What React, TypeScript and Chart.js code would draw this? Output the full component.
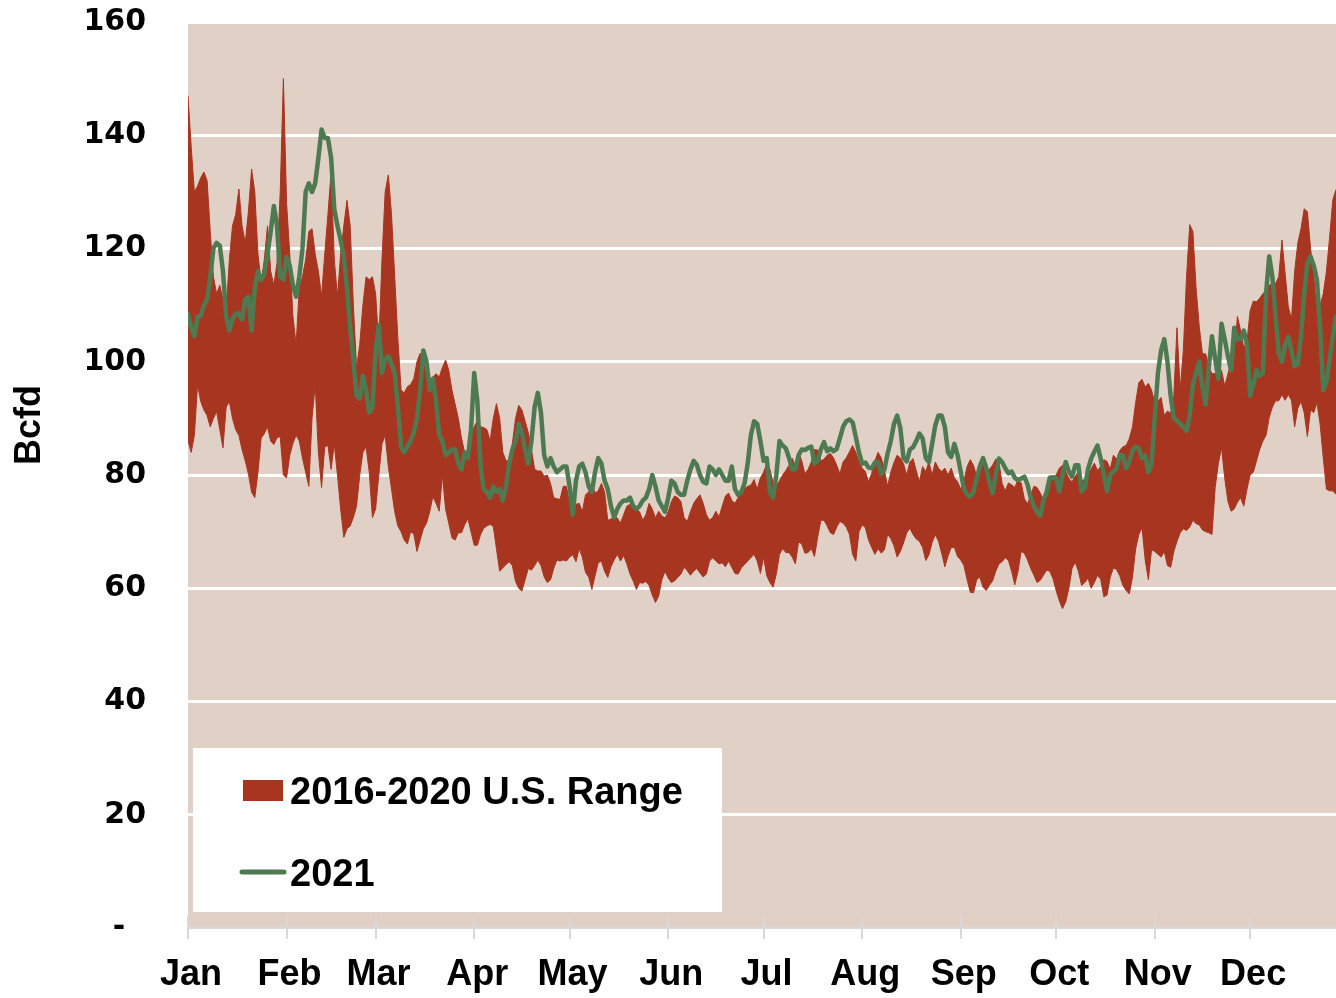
import React, { useEffect, useRef } from 'react';
import { Chart, registerables } from 'chart.js';

Chart.register(...registerables);

const monthNames = ['Jan', 'Feb', 'Mar', 'Apr', 'May', 'Jun', 'Jul', 'Aug', 'Sep', 'Oct', 'Nov', 'Dec'];
const monthStartDays = [0, 31, 59, 90, 120, 151, 181, 212, 243, 273, 304, 334];
const yTickValues = [0, 20, 40, 60, 80, 100, 120, 140, 160];
const yAxisTitle = 'Bcfd';
const rangeLabel = '2016-2020 U.S. Range';
const lineLabel = '2021';

// Daily maximum of the 2016-2020 range (Bcfd), day 0 = Jan 1
const rangeHigh = [
  147, 138, 130, 131, 132.5, 133.5, 132, 123, 115, 112,
  113.5, 111, 109, 118, 124, 126, 130.5, 124, 121, 126.5,
  134, 130, 119, 114, 118, 124, 116, 113.5, 117.5, 130,
  150, 128, 119, 108, 103, 113, 115, 118, 123, 123.5,
  119, 116, 111.5, 119, 126, 133.5, 118, 111.5, 119, 124,
  128.5, 124, 110, 99, 103, 110, 115, 114.5, 115, 112,
  103, 118, 130, 133, 126, 115, 104, 95, 94.5, 95.6,
  96, 97, 100, 101.5, 100, 97.5, 96.5, 97.3, 97.9, 97.3,
  99, 100.3, 98.5, 95, 92.5, 90, 86.5, 84, 82.5, 86,
  88.5, 89.6, 88.5, 88.4, 88, 86, 90, 92.6, 90, 84,
  82.5, 82.5, 85.5, 90, 92.3, 91.5, 89.5, 87.5, 84.5, 81,
  80.7, 80.7, 79.8, 80, 78.5, 76, 75.8, 75.7, 78, 78,
  75, 72.5, 74.8, 75, 73.5, 76.5, 77, 78.5, 76.8, 77.2,
  78.5, 77, 72, 72.2, 72.8, 72.4, 71.5, 73, 74.5, 74.8,
  74, 74, 73.5, 72, 73, 75, 74, 72.4, 73.6, 72.8,
  72.4, 73.5, 75.3, 76.3, 76, 75.3, 72.5, 71.8, 73.5, 75,
  75.8, 76.5, 75, 73, 72, 72.5, 73.6, 72.6, 74.5, 76.3,
  76.8, 75.5, 75, 76, 77, 77.6, 78, 78.2, 79.2, 77.5,
  79.5, 80.5, 82, 81, 78.5, 78, 79, 80, 80.8, 81.7,
  83, 81.5, 84, 82.5, 80.2, 81, 82.3, 84.5, 84.4, 82.5,
  82.8, 83.5, 83.8, 83, 81.7, 80.2, 82.3, 83, 84.1, 85.2,
  84, 82.3, 81.2, 80.6, 78.8, 80.3, 82.5, 84, 83, 80.8,
  78, 80.5, 82.2, 83.5, 83, 82, 80, 82.3, 82.9, 80.8,
  78.8, 81.5, 80.6, 82.3, 80, 82.3, 81.2, 80.6, 81.2, 80,
  81.2, 79.5, 78.8, 77.5, 79, 81.5, 82.7, 81.7, 79.8, 81.5,
  81.8, 80.8, 81, 81.7, 82.8, 82.3, 78.5, 77.2, 78.6, 78.3,
  77.8, 79.2, 78.6, 75.8, 74.9, 76.5, 78, 77.8, 76.8, 75.6,
  76.5, 78.8, 79.6, 80, 81.2, 81.7, 80.6, 79.4, 78.8, 79.8,
  80.6, 79, 79.2, 80.4, 81, 82.1, 80.8, 81.5, 82.7, 82.4,
  81, 83.5, 82.8, 84.3, 85, 85.2, 86.4, 88.5, 92.8, 96.3,
  96.9, 95.5, 96.2, 95, 92.8, 93, 93.7, 90.5, 91.3, 90.9,
  94, 106, 95, 102, 115, 124.2, 123, 113, 106.2, 101.4,
  101.4, 99.1, 97.9, 97.9, 97.9, 98.5, 95.7, 97.8, 100, 101,
  108, 105.5, 102.5, 103.5, 109, 110.7, 110.6, 111.2, 112, 112.6,
  113.5, 113.8, 113.8, 115, 121.5, 115.6, 109.7, 107.5, 116, 121,
  123.5, 127, 126.5, 120, 115, 109, 110, 112, 116, 122,
  128.6, 130.4
];

// Daily minimum of the 2016-2020 range (Bcfd)
const rangeLow = [
  86, 84, 87, 96, 93, 91.5, 90.5, 88.5, 90, 91.2,
  88, 84.8, 92, 93, 90, 88, 87, 84.5, 82.5, 80.2,
  77, 76, 80.5, 86.5, 87.3, 88.5, 86, 85.4, 86.6, 86.8,
  80, 79.5, 83.5, 85.6, 87, 86, 83, 80.5, 78, 90,
  96, 84, 77.8, 85, 85.2, 81, 85.5, 80, 74, 69,
  70.5, 71, 72.5, 74.5, 80, 84, 85, 80.5, 72.5, 74,
  80, 85.5, 87, 81.5, 77.5, 73.5, 71, 70, 68.5, 67.8,
  70, 69.6, 66.5, 68.5, 70.5, 71.5, 73.5, 76.2, 75, 73.6,
  80, 74, 71.5, 68.9, 68.5, 69.8, 69.8, 71.2, 72.3, 70,
  67.6, 67.6, 69.5, 70.6, 71, 71.3, 70.9, 67, 63, 63.6,
  64.2, 64.7, 64, 61.2, 60, 59.5, 61.5, 63.5, 63.2, 64,
  65, 64, 62, 61, 61.5, 63.5, 65, 64.8, 65, 64.8,
  65.5, 65.9, 64.7, 67, 65.5, 62.8, 62, 59.8, 62.2, 64.5,
  64.8, 63, 61.9, 63.8, 65, 66, 64.8, 65.8, 64.3, 62.5,
  61.3, 59.8, 61, 60.9, 61.2, 60.5, 58.8, 57.5, 58.6, 61.5,
  63, 61.8, 61, 61.3, 61.9, 62.5, 63.7, 63.1, 62.3, 63,
  63.5, 62.7, 62, 62.5, 64.8, 65.4, 64.8, 64.3, 64.5, 63.8,
  64.8, 63.7, 62.6, 62.5, 63.6, 64.2, 64.8, 65.4, 66, 64.8,
  62.6, 65.5, 62.2, 61, 60.2, 62.5, 66, 67, 66.3, 66.3,
  65.5, 64.3, 68.2, 67.8, 66.2, 66.3, 67, 65.6, 69, 72,
  72, 71, 69.8, 69.5, 70.8, 71.8, 71.5, 70.8, 69.5, 66,
  64.8, 70, 71.2, 70.7, 68.5, 67.2, 66, 67, 66.2, 66.8,
  69.5, 68.8, 67.5, 65.5, 66.5, 68, 69.8, 70.6, 69.5, 68.7,
  68.3, 67.2, 64.9, 65.9, 68.1, 69.5, 68.3, 66.2, 63.8, 65.7,
  67.2, 67.2, 65.6, 65, 64, 61.5, 59.3, 59.2, 61.5, 62,
  60.2, 59.6, 60.5, 61.3, 63, 64.3, 64.7, 65.4, 64.9, 63,
  60.6, 63, 66.5, 66.2, 65, 63.5, 62.3, 61, 61.4, 62.3,
  63.2, 63, 61.7, 59.6, 57.8, 56.4, 57.6, 60, 63.5, 64.6,
  63, 60.5, 61, 61.8, 60, 61, 62.3, 61.6, 58.5, 58.8,
  62, 63.6, 63.3, 62.2, 60.5, 59.6, 59, 62, 67, 69.5,
  70.7, 65, 61.5, 66.8, 66.5, 66, 65.5, 66.5, 64, 63.7,
  66.5, 68.3, 69.8, 70.5, 70.2, 70.8, 72, 71.4, 71.2, 70.3,
  70, 69.8, 69.5, 77.8, 82, 84.9, 79.5, 75.4, 73.6, 74,
  75.2, 76, 74.5, 77.5, 80, 80.5, 82.5, 84.5, 86, 87,
  90.2, 92, 93.1, 93.1, 94.2, 93.2, 94.2, 93.2, 88.5, 91.8,
  93, 91, 86.8, 91.5, 91, 92.8, 89, 83, 77.5, 77.2,
  77.2, 76.6
];

// Daily 2021 values (Bcfd)
const values2021 = [
  108.5, 106, 104.5, 108, 108, 110, 111, 115, 120, 121,
  120.5, 116, 108, 105.5, 107.5, 108.5, 108.5, 107.5, 111, 111.5,
  105.5, 113, 116, 114.5, 115.5, 119, 123, 127.5, 124, 115,
  114.5, 118.5, 117, 113.5, 111.5, 115, 120, 130, 131.5, 130,
  131.5, 136, 141, 139.5, 139.5, 136, 127, 124, 121.5, 118.5,
  113, 106, 100.5, 94, 93.5, 97.5, 95, 91, 92, 102,
  106.5, 98, 100.5, 101, 99.5, 98, 92, 85, 84, 85,
  86, 87.5, 90, 95, 102, 100, 95, 97, 93, 87,
  86, 83.5, 84, 84.5, 84.5, 82, 81, 84, 83, 88,
  98, 93, 81.5, 77.5, 77, 76, 78, 77, 77.5, 75.5,
  78, 82, 84.5, 86, 89, 87.5, 84.5, 82, 86, 92,
  94.5, 91, 83.5, 81.5, 83, 81.5, 80.5, 81, 81.5, 81.5,
  78, 73, 79, 81.5, 82, 80.5, 78, 77, 80.5, 83,
  82, 79, 77.5, 74.5, 72.5, 74, 75, 75.5, 75.5, 76,
  74.5, 74, 74.5, 75.5, 76, 77.5, 80, 78, 75.5, 74.5,
  73.5, 76, 79, 78.5, 77, 76.5, 76.5, 79, 81, 82.5,
  81.8, 80, 78.8, 78.5, 81.5, 81, 80, 81, 80, 79,
  79, 81.5, 77.5, 76.5, 77, 78.5, 82, 87, 89.5, 89,
  86, 82.5, 83, 77, 76, 80, 86, 85.2, 84.7, 83,
  81, 81, 83.5, 84.5, 84.4, 84.8, 85, 82, 82.5, 84.5,
  85.8, 84.2, 84.7, 84.2, 84.6, 86.5, 88.5, 89.5, 89.8, 89.3,
  86.7, 84, 82, 82.2, 81.3, 81.2, 82.2, 82.3, 80.2, 81,
  83.8, 86, 89, 90.5, 88.3, 83, 82.4, 84.5, 84.9, 86,
  87.3, 86.5, 83, 82.3, 85.5, 88.8, 90.5, 90.5, 88.5, 84,
  83.2, 85.5, 83.5, 80.6, 77.5, 76.5, 76.2, 77, 79.4, 81.5,
  83, 81.3, 78.8, 76.8, 80, 82.9, 82.3, 81.2, 80.3, 80.6,
  79.5, 79.1, 79.4, 79.7, 78.3, 76, 74.5, 73.5, 72.8, 75.5,
  77, 79.5, 79.6, 79.4, 77.1, 80, 82.3, 80.6, 79.7, 81.7,
  81.7, 77.1, 77.7, 81, 82.9, 84.1, 85.2, 82.9, 80, 77.1,
  80, 80.6, 81.2, 83.5, 83.5, 81.2, 82.3, 84.4, 85, 84.7,
  83, 83.4, 80.5, 82, 90, 98, 102, 104, 100, 94,
  90, 89.6, 89, 88.5, 87.8, 90.5, 96, 98, 100, 95.5,
  92.5, 99, 104.5, 100.5, 97, 106.7, 104, 101, 98.5, 106,
  104, 104, 105.5, 103, 94, 96, 98.5, 97.5, 98, 112,
  118.6, 115, 108, 101.5, 100, 103, 104.4, 102, 99.2, 99.6,
  104.5, 112, 117.5, 118.6, 117, 114.5, 106, 95, 96.5, 100.5,
  104.5, 108
];

const BG = '#E0D0C6';
const RED = '#A8351F';
const GREEN = '#4E7A52';
const AXIS_GRAY = '#D9D9D9';

const toPoints = (arr: number[]) => arr.map((v, i) => ({ x: i, y: v }));

const decorPlugin = {
  id: 'decor',
  beforeDraw(chart: any) {
    const { ctx, chartArea } = chart;
    ctx.save();
    ctx.fillStyle = BG;
    ctx.fillRect(chartArea.left, chartArea.top, chartArea.right - chartArea.left, chartArea.bottom - chartArea.top);
    ctx.restore();
  },
  afterDraw(chart: any) {
    const { ctx, chartArea, scales } = chart;
    ctx.save();
    // inner parts of the month tick marks
    ctx.strokeStyle = AXIS_GRAY;
    ctx.lineWidth = 2;
    monthStartDays.forEach((d) => {
      const px = Math.round(scales.x.getPixelForValue(d));
      ctx.beginPath();
      ctx.moveTo(px, chartArea.bottom - 12);
      ctx.lineTo(px, chartArea.bottom);
      ctx.stroke();
    });

    // y axis title
    ctx.save();
    ctx.translate(30, 425);
    ctx.rotate(-Math.PI / 2);
    ctx.fillStyle = '#000';
    ctx.font = 'bold 36px "Liberation Sans", Arial, sans-serif';
    ctx.textAlign = 'center';
    ctx.textBaseline = 'middle';
    ctx.fillText(yAxisTitle, 0, 0);
    ctx.restore();

    // legend box
    const lx = chartArea.left + 5;
    const ly = 748;
    ctx.fillStyle = '#FFFFFF';
    ctx.fillRect(lx, ly, 529, 164);
    ctx.fillStyle = RED;
    ctx.fillRect(lx + 50, ly + 32, 40, 21);
    ctx.strokeStyle = GREEN;
    ctx.lineWidth = 5;
    ctx.lineCap = 'round';
    ctx.beginPath();
    ctx.moveTo(lx + 49, ly + 124);
    ctx.lineTo(lx + 91, ly + 124);
    ctx.stroke();
    ctx.fillStyle = '#000';
    ctx.font = 'bold 38px "Liberation Sans", Arial, sans-serif';
    ctx.textAlign = 'left';
    ctx.textBaseline = 'alphabetic';
    ctx.fillText(rangeLabel, lx + 97, ly + 56);
    ctx.fillText(lineLabel, lx + 97, ly + 138);
    ctx.restore();
  }
};

export default function App() {
  const canvasRef = useRef<HTMLCanvasElement | null>(null);

  useEffect(() => {
    document.body.style.margin = '0';
    const canvas = canvasRef.current;
    if (!canvas) return;
    const chart = new Chart(canvas, {
      type: 'line',
      data: {
        datasets: [
          {
            label: lineLabel,
            data: toPoints(values2021),
            borderColor: GREEN,
            borderWidth: 4.5,
            pointRadius: 0,
            tension: 0,
            fill: false,
            borderJoinStyle: 'round',
            borderCapStyle: 'round'
          },
          {
            label: rangeLabel,
            data: toPoints(rangeHigh),
            borderColor: RED,
            backgroundColor: RED,
            borderWidth: 1,
            pointRadius: 0,
            tension: 0,
            fill: '+1'
          },
          {
            label: 'low',
            data: toPoints(rangeLow),
            borderColor: RED,
            backgroundColor: RED,
            borderWidth: 1,
            pointRadius: 0,
            tension: 0,
            fill: false
          }
        ]
      },
      options: {
        responsive: false,
        maintainAspectRatio: false,
        animation: false,
        layout: { padding: { top: 22, left: 0, right: 0, bottom: 0 } },
        plugins: {
          legend: { display: false },
          tooltip: { enabled: false }
        },
        scales: {
          x: {
            type: 'linear',
            min: 0,
            max: 361,
            afterBuildTicks: (s: any) => {
              s.ticks = monthStartDays.map((v) => ({ value: v }));
            },
            afterFit: (s: any) => {
              s.height = 70;
            },
            ticks: {
              autoSkip: false,
              maxRotation: 0,
              padding: 14,
              labelOffset: 3,
              color: '#000',
              font: { family: '"Liberation Sans", Arial, sans-serif', weight: 'bold', size: 36 },
              callback: (_v: any, i: number) => monthNames[i]
            },
            grid: {
              drawOnChartArea: false,
              drawTicks: true,
              tickLength: 11,
              color: AXIS_GRAY,
              lineWidth: 2
            },
            border: { display: true, color: AXIS_GRAY, width: 2 }
          },
          y: {
            min: 0,
            max: 160,
            afterBuildTicks: (s: any) => {
              s.ticks = yTickValues.map((v) => ({ value: v }));
            },
            afterFit: (s: any) => {
              s.width = 188;
            },
            ticks: {
              padding: 0,
              color: '#000',
              font: { family: '"DejaVu Sans", sans-serif', weight: 'bold', size: 30 },
              callback: (v: any) => (v === 0 ? '-  ' : String(v))
            },
            grid: {
              drawTicks: true,
              tickLength: 42,
              tickColor: 'rgba(0,0,0,0)',
              lineWidth: 3,
              color: (ctx: any) => (ctx.tick && ctx.tick.value === 0 ? 'rgba(0,0,0,0)' : '#FFFFFF')
            },
            border: { display: false }
          }
        }
      },
      plugins: [decorPlugin]
    } as any);
    return () => chart.destroy();
  }, []);

  return (
    <div style={{ width: 1336, height: 998 }}>
      <canvas ref={canvasRef} width={1336} height={998} style={{ display: 'block' }} />
    </div>
  );
}
